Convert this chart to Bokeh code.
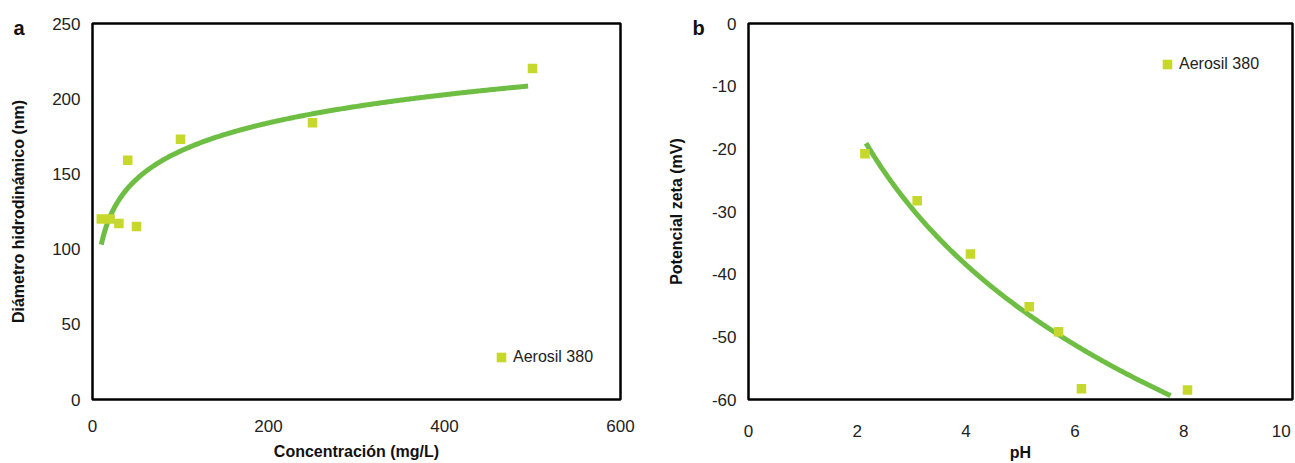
import numpy as np
from bokeh.plotting import figure
from bokeh.layouts import row
from bokeh.models import (Range1d, FixedTicker, Legend, LegendItem, Title,
                          CustomJSTickFormatter)
from bokeh.embed import file_html
from bokeh.resources import INLINE

# ---------------- data ----------------
conc = [10, 20, 30, 40, 50, 100, 250, 500]
diam = [120, 120, 117, 159, 115, 173, 184, 220]
conc_trend_range = [10, 495]

ph = [2.14, 3.10, 4.08, 5.16, 5.70, 6.12, 8.07]
zeta = [-20.8, -28.3, -36.8, -45.2, -49.2, -58.3, -58.5]
ph_trend_range = [2.16, 7.76]

series_name = "Aerosil 380"
x_ticks_a = [0, 200, 400, 600]
y_ticks_a = [0, 50, 100, 150, 200, 250]
x_ticks_b = [0, 2, 4, 6, 8, 10]
y_ticks_b = [-60, -50, -40, -30, -20, -10, 0]

# ---------------- styles ----------------
MARK = "#C6D82B"
LINE = "#6EBE44"
FONT = "Liberation Sans"
TICK_SIZE = "17px"
TITLE_SIZE = "16px"


def log_fit(xs, ys, xr):
    a, b = np.polyfit(np.log(np.asarray(xs, float)), np.asarray(ys, float), 1)
    xx = np.linspace(xr[0], xr[1], 300)
    return xx, a * np.log(xx) + b


def style(p, xt, yt):
    p.xgrid.visible = False
    p.ygrid.visible = False
    p.outline_line_color = "black"
    p.outline_line_width = 2.5
    p.xaxis.ticker = FixedTicker(ticks=xt)
    p.yaxis.ticker = FixedTicker(ticks=yt)
    for ax in (p.xaxis[0], p.yaxis[0]):
        ax.formatter = CustomJSTickFormatter(code="return tick.toFixed(0)")
        ax.axis_line_color = None
        ax.major_tick_line_color = None
        ax.minor_tick_line_color = None
        ax.major_tick_out = 0
        ax.major_tick_in = 0
        ax.major_label_text_font = FONT
        ax.major_label_text_font_size = TICK_SIZE
        ax.major_label_text_color = "#222222"
        ax.axis_label_text_font = FONT
        ax.axis_label_text_font_size = TITLE_SIZE
        ax.axis_label_text_font_style = "bold"
        ax.axis_label_text_color = "#111111"
    p.xaxis.major_label_standoff = 20
    p.xaxis.axis_label_standoff = 0
    p.yaxis.major_label_standoff = 12
    p.yaxis.major_label_orientation = "horizontal"


def add_legend(p, r, loc):
    leg = Legend(items=[LegendItem(label=series_name, renderers=[r])],
                 location=loc, border_line_color=None,
                 background_fill_alpha=0, padding=0, margin=0, spacing=0,
                 glyph_width=24, glyph_height=24, label_height=24,
                 label_standoff=0, label_text_font=FONT,
                 label_text_font_size="16px", label_text_color="#222222",
                 label_text_baseline="middle")
    p.add_layout(leg, "center")


def add_panel_letter(p, letter, offset, standoff):
    t = Title(text=letter, align="left", offset=offset, standoff=standoff,
              vertical_align="bottom", text_font=FONT, text_font_size="20px",
              text_font_style="bold", text_color="#111111")
    p.add_layout(t, "above")


# ---------------- panel a ----------------
pa = figure(width=664, height=463, output_backend="svg", toolbar_location=None,
            x_range=Range1d(0, 600), y_range=Range1d(0, 250),
            min_border_left=92, min_border_right=44,
            min_border_top=23, min_border_bottom=61,
            x_axis_label="Concentración (mg/L)",
            y_axis_label="Diámetro hidrodinámico (nm)")
style(pa, x_ticks_a, y_ticks_a)
pa.yaxis.axis_label_standoff = 22
pa.xaxis.axis_label_standoff = 8
tx, ty = log_fit(conc, diam, conc_trend_range)
pa.line(tx, ty, line_color=LINE, line_width=5)
ra = pa.scatter(conc, diam, marker="square", size=9.5, fill_color=MARK,
                line_color=None)
add_legend(pa, ra, (397, 30))
add_panel_letter(pa, "a", -79, -30)

# ---------------- panel b ----------------
pb = figure(width=631, height=463, output_backend="svg", toolbar_location=None,
            x_range=Range1d(0, 10), y_range=Range1d(-60, 0),
            min_border_left=83, min_border_right=3,
            min_border_top=23, min_border_bottom=61,
            x_axis_label="pH", y_axis_label="Potencial zeta (mV)")
style(pb, x_ticks_b, y_ticks_b)
pb.xaxis.major_label_overrides = {10: "10\u2008"}
pb.xaxis.major_label_standoff = 22
pb.yaxis.axis_label_standoff = 24
tx2, ty2 = log_fit(ph, zeta, ph_trend_range)
pb.line(tx2, ty2, line_color=LINE, line_width=5)
rb = pb.scatter(ph, zeta, marker="square", size=9.5, fill_color=MARK,
                line_color=None)
add_legend(pb, rb, (407, 323))
add_panel_letter(pb, "b", -56, -30)

layout = row(pa, pb)
open("out.html", "w").write(file_html(layout, INLINE))
